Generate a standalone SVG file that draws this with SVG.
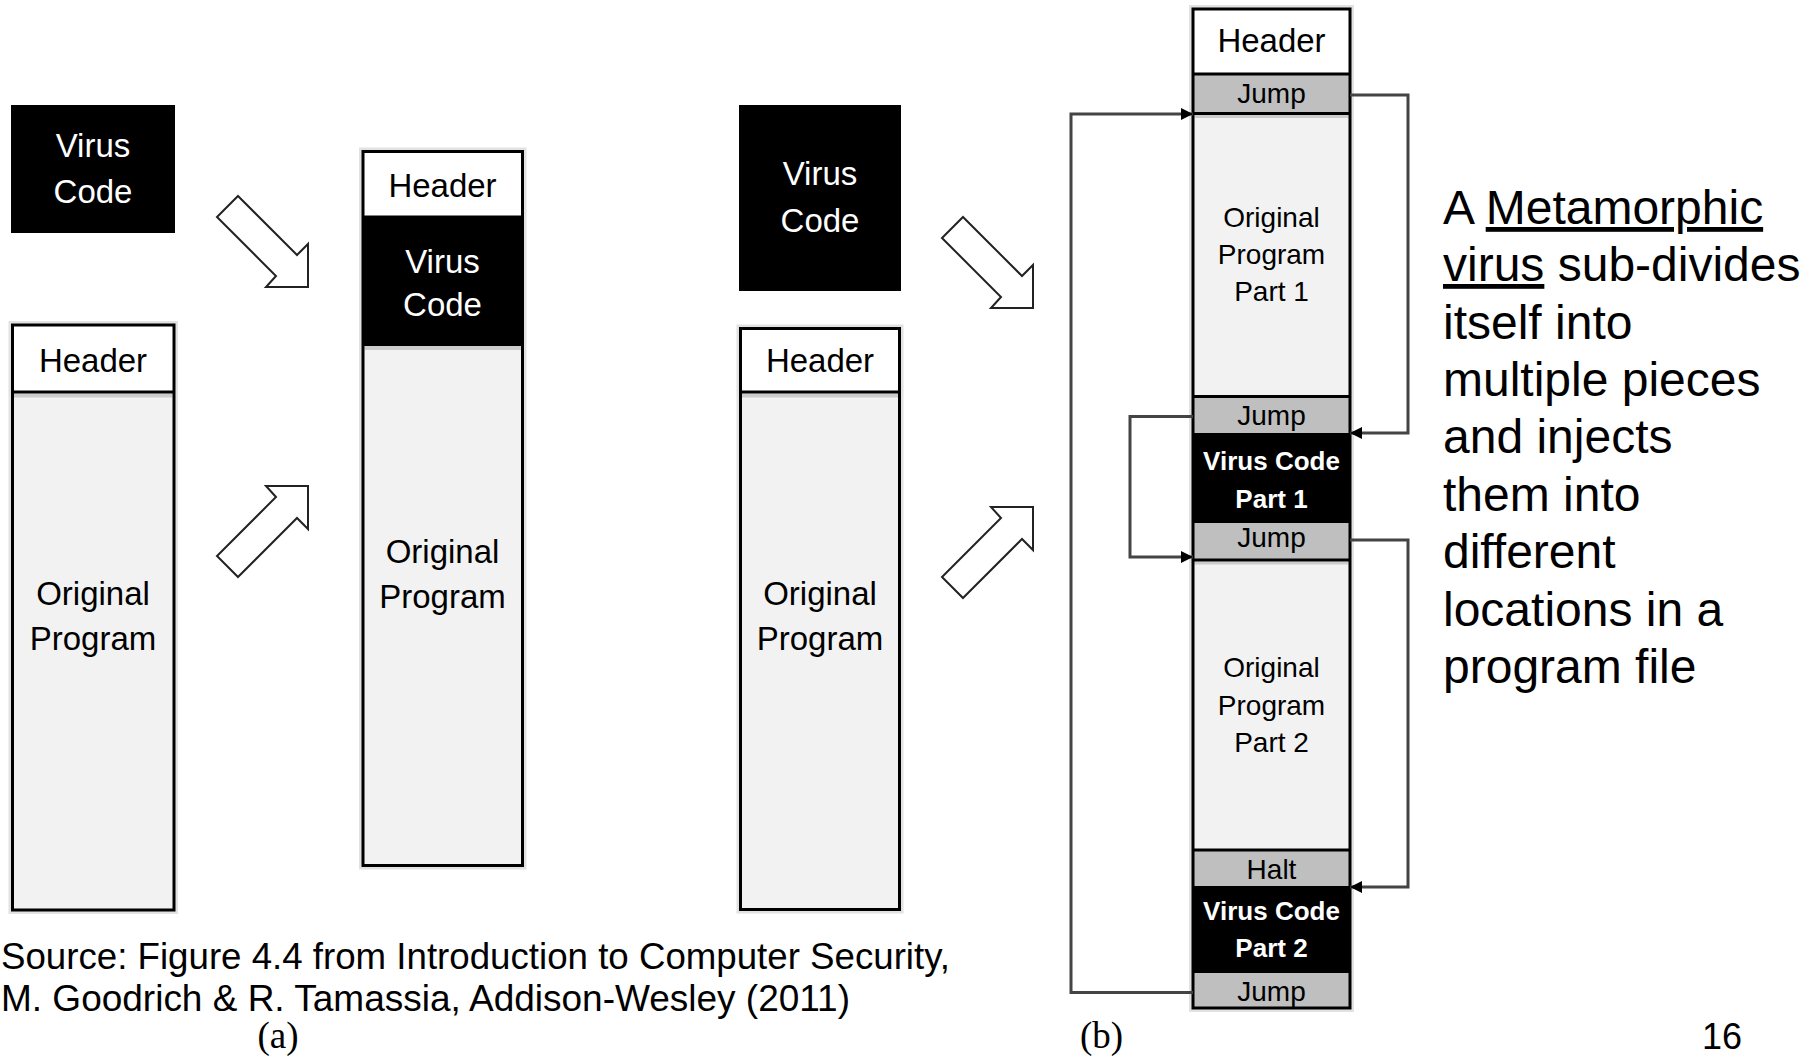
<svg xmlns="http://www.w3.org/2000/svg" width="1818" height="1058" viewBox="0 0 1818 1058">
<style>
  .lbl { font-family: "Liberation Sans", Arial, sans-serif; text-anchor: middle; fill: #000; }
  .w { fill: #fff; }
  .big { font-size: 33px; }
  .sm { font-size: 28px; }
  .smb { font-size: 26px; font-weight: bold; }
  .halo { fill: none; stroke: #e2e2e2; stroke-width: 8; }
  .box { fill: none; stroke: #000; stroke-width: 3; }
  .div { stroke: #000; stroke-width: 3; }
  .shade { fill: #cccccc; }
  .blk { fill: #000; }
  .prog { fill: #f2f2f2; }
  .gray { fill: #bfbfbf; }
  .white { fill: #fff; }
  .barrow { fill: #fff; stroke: #222; stroke-width: 2; stroke-linejoin: miter; }
  .conn { fill: none; stroke: #444; stroke-width: 3; }
  .body { font-family: "Liberation Sans", Arial, sans-serif; font-size: 48px; fill: #000; }
  .cap { font-family: "Liberation Sans", Arial, sans-serif; font-size: 37px; fill: #000; }
  .fig { font-family: "Liberation Serif", "Times New Roman", serif; font-size: 37px; fill: #000; text-anchor: middle; }
</style>
<defs>
  <marker id="ah" markerUnits="userSpaceOnUse" markerWidth="12" markerHeight="12" refX="12" refY="6" orient="auto">
    <path d="M0,0 L12,6 L0,12 z" fill="#000"/>
  </marker>
</defs>
<rect x="0" y="0" width="1818" height="1058" fill="#fff"/>

<!-- (a) virus code block -->
<g id="a-virus">
  <rect x="11" y="105" width="164" height="128" class="blk"/>
  <text x="93" y="157" class="lbl w big">Virus</text>
  <text x="93" y="203" class="lbl w big">Code</text>
</g>

<!-- (a) original file -->
<g id="a-original">
  <rect x="12.5" y="325" width="161.5" height="585" class="halo"/>
  <rect x="12.5" y="325" width="161.5" height="67" class="white"/>
  <rect x="12.5" y="392" width="161.5" height="518" class="prog"/>
  <rect x="14" y="393.5" width="158.5" height="4" class="shade"/>
  <line x1="12.5" y1="392" x2="174" y2="392" class="div"/>
  <rect x="12.5" y="325" width="161.5" height="585" class="box"/>
  <text x="93" y="372" class="lbl big">Header</text>
  <text x="93" y="605" class="lbl big">Original</text>
  <text x="93" y="650" class="lbl big">Program</text>
</g>

<!-- (a) block arrows -->
<g id="a-arrow1">
  <polygon points="238,196 297,255 308,244 308,287 266,287 276,276 217,217" class="barrow"/>
</g>
<g id="a-arrow2">
  <polygon points="238,577 297,518 308,529 308,486 266,486 276,497 217,556" class="barrow"/>
</g>

<!-- (a) infected file -->
<g id="a-infected">
  <rect x="363" y="151.5" width="159.5" height="714" class="halo"/>
  <rect x="363" y="151.5" width="159.5" height="66" class="white"/>
  <rect x="363" y="217" width="159.5" height="129" class="blk"/>
  <rect x="363" y="346" width="159.5" height="519.5" class="prog"/>
  <rect x="364.5" y="346" width="156.5" height="4" class="shade"/>
  <line x1="363" y1="217" x2="522.5" y2="217" class="div"/>
  <rect x="363" y="151.5" width="159.5" height="714" class="box"/>
  <text x="442.5" y="197" class="lbl big">Header</text>
  <text x="442.5" y="273" class="lbl w big">Virus</text>
  <text x="442.5" y="316" class="lbl w big">Code</text>
  <text x="442.5" y="563" class="lbl big">Original</text>
  <text x="442.5" y="608" class="lbl big">Program</text>
</g>

<!-- (b) virus code block -->
<g id="b-virus">
  <rect x="739" y="105" width="162" height="186" class="blk"/>
  <text x="820" y="185" class="lbl w big">Virus</text>
  <text x="820" y="232" class="lbl w big">Code</text>
</g>

<!-- (b) original file -->
<g id="b-original">
  <rect x="740.5" y="328.5" width="159" height="581" class="halo"/>
  <rect x="740.5" y="328.5" width="159" height="63.5" class="white"/>
  <rect x="740.5" y="392" width="159" height="517.5" class="prog"/>
  <rect x="742" y="393.5" width="156" height="4" class="shade"/>
  <line x1="740.5" y1="392" x2="899.5" y2="392" class="div"/>
  <rect x="740.5" y="328.5" width="159" height="581" class="box"/>
  <text x="820" y="372" class="lbl big">Header</text>
  <text x="820" y="605" class="lbl big">Original</text>
  <text x="820" y="650" class="lbl big">Program</text>
</g>

<!-- (b) block arrows -->
<g id="b-arrow1">
  <polygon points="963,217 1022,276 1033,265 1033,308 991,308 1001,297 942,238" class="barrow"/>
</g>
<g id="b-arrow2">
  <polygon points="963,598 1022,539 1033,550 1033,507 991,507 1001,518 942,577" class="barrow"/>
</g>

<!-- (b) metamorphic infected file -->
<g id="b-infected">
  <rect x="1193" y="9" width="157" height="999" class="halo"/>
  <rect x="1193" y="9" width="157" height="65" class="white"/>
  <rect x="1193" y="74" width="157" height="39.5" class="gray"/>
  <rect x="1193" y="113.5" width="157" height="283" class="prog"/>
  <rect x="1193" y="396.5" width="157" height="36.5" class="gray"/>
  <rect x="1193" y="433" width="157" height="90" class="blk"/>
  <rect x="1193" y="523" width="157" height="37" class="gray"/>
  <rect x="1193" y="560" width="157" height="290" class="prog"/>
  <rect x="1193" y="850" width="157" height="36" class="gray"/>
  <rect x="1193" y="886" width="157" height="87" class="blk"/>
  <rect x="1193" y="973" width="157" height="35" class="gray"/>
  <rect x="1194.5" y="115" width="154" height="3" class="shade"/>
  <rect x="1194.5" y="561.5" width="154" height="3" class="shade"/>
  <line x1="1193" y1="74" x2="1350" y2="74" class="div"/>
  <line x1="1193" y1="113.5" x2="1350" y2="113.5" class="div"/>
  <line x1="1193" y1="396.5" x2="1350" y2="396.5" class="div"/>
  <line x1="1193" y1="560" x2="1350" y2="560" class="div"/>
  <line x1="1193" y1="850" x2="1350" y2="850" class="div"/>
  <rect x="1193" y="9" width="157" height="999" class="box"/>
  <text x="1271.5" y="52" class="lbl big">Header</text>
  <text x="1271.5" y="103" class="lbl sm">Jump</text>
  <text x="1271.5" y="227" class="lbl sm">Original</text>
  <text x="1271.5" y="264" class="lbl sm">Program</text>
  <text x="1271.5" y="301" class="lbl sm">Part 1</text>
  <text x="1271.5" y="425" class="lbl sm">Jump</text>
  <text x="1271.5" y="470" class="lbl w smb">Virus Code</text>
  <text x="1271.5" y="508" class="lbl w smb">Part 1</text>
  <text x="1271.5" y="547" class="lbl sm">Jump</text>
  <text x="1271.5" y="677" class="lbl sm">Original</text>
  <text x="1271.5" y="715" class="lbl sm">Program</text>
  <text x="1271.5" y="752" class="lbl sm">Part 2</text>
  <text x="1271.5" y="879" class="lbl sm">Halt</text>
  <text x="1271.5" y="920" class="lbl w smb">Virus Code</text>
  <text x="1271.5" y="957" class="lbl w smb">Part 2</text>
  <text x="1271.5" y="1001" class="lbl sm">Jump</text>
</g>

<!-- connectors -->
<g id="connectors">
  <path d="M1193,992.5 H1071 V114 H1193" class="conn" marker-end="url(#ah)"/>
  <path d="M1350,95 H1408 V433 H1350" class="conn" marker-end="url(#ah)"/>
  <path d="M1193,416.5 H1130 V557 H1193" class="conn" marker-end="url(#ah)"/>
  <path d="M1350,540 H1408 V887 H1350" class="conn" marker-end="url(#ah)"/>
</g>

<!-- description -->
<g id="description">
  <text x="1443" y="224" class="body">A <tspan style="text-decoration:underline">Metamorphic</tspan></text>
  <text x="1443" y="281" class="body"><tspan style="text-decoration:underline">virus</tspan> sub-divides</text>
  <text x="1443" y="339" class="body">itself into</text>
  <text x="1443" y="396" class="body">multiple pieces</text>
  <text x="1443" y="453" class="body">and injects</text>
  <text x="1443" y="511" class="body">them into</text>
  <text x="1443" y="568" class="body">different</text>
  <text x="1443" y="626" class="body">locations in a</text>
  <text x="1443" y="683" class="body">program file</text>
</g>

<!-- caption -->
<g id="caption">
  <text x="1" y="969" class="cap" textLength="949" lengthAdjust="spacingAndGlyphs">Source: Figure 4.4 from Introduction to Computer Security,</text>
  <text x="1" y="1011" class="cap" textLength="849" lengthAdjust="spacingAndGlyphs">M. Goodrich &amp; R. Tamassia, Addison-Wesley (2011)</text>
  <text x="278" y="1048" class="fig">(a)</text>
  <text x="1101.5" y="1048" class="fig">(b)</text>
  <text x="1702" y="1049" class="cap" style="font-size:36px">16</text>
</g>
</svg>
